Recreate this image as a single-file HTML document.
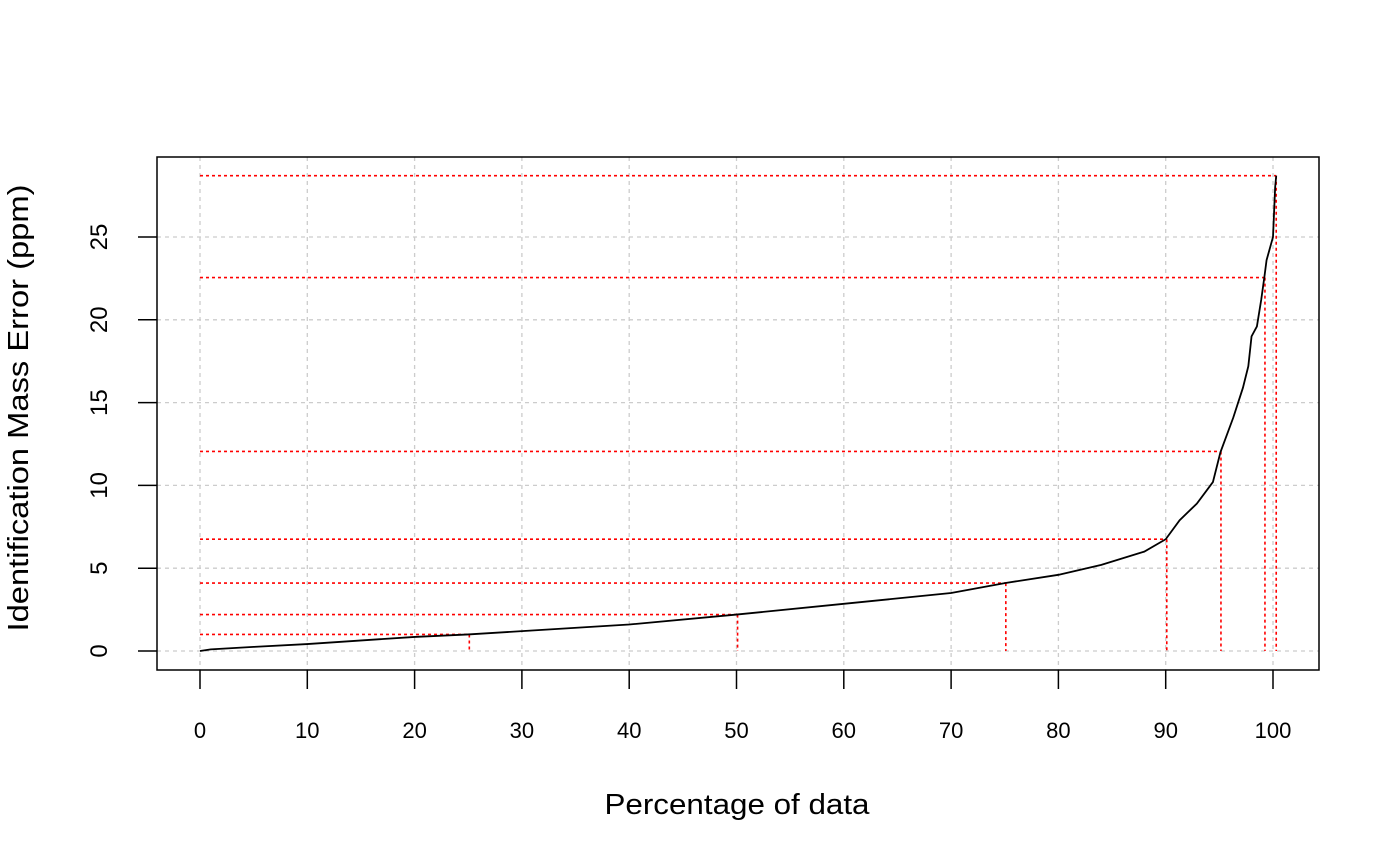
<!DOCTYPE html>
<html><head><meta charset="utf-8"><style>
body{margin:0;background:#fff}
svg{display:block;font-family:"Liberation Sans",Arial,sans-serif}
</style></head><body>
<svg id="chart" width="1400" height="866" viewBox="0 0 1400 866" xmlns="http://www.w3.org/2000/svg">
<rect width="1400" height="866" fill="#fff"/>
<g id="grid"></g>
<g id="quant"></g>
<g id="curve"></g>
<rect x="157" y="157" width="1162" height="513" fill="none" stroke="#000" stroke-width="1.5"/>
<g id="axes"></g>
<text x="737" y="814" font-size="29" text-anchor="middle" textLength="265" lengthAdjust="spacingAndGlyphs">Percentage of data</text>
<text transform="translate(28,408) rotate(-90)" font-size="29" text-anchor="middle" textLength="447" lengthAdjust="spacingAndGlyphs">Identification Mass Error (ppm)</text>
</svg>
<script>
const xTicks=[0,10,20,30,40,50,60,70,80,90,100];
const yTicks=[0,5,10,15,20,25];
const curveX=[0,1,5,10,20,25,30,40,50,60,70,75,80,84,88,90,91.3,92.9,94.4,95.1,96.3,97.2,97.7,98.0,98.5,98.9,99.2,99.4,100,100.2,100.3];
const curveY=[0,0.1,0.25,0.42,0.85,1.0,1.2,1.6,2.2,2.85,3.5,4.1,4.6,5.2,6.0,6.75,7.9,8.9,10.2,12.0,14.1,15.9,17.2,19.0,19.6,21.2,22.6,23.6,25.0,28.0,28.7];
const quantP=[25.1,50.1,75.1,90.1,95.15,99.25,100.3];
const quantV=[1.0,2.2,4.1,6.75,12.05,22.55,28.7];
const sx=v=>200+v*10.73;
const sy=v=>651-v*16.56;
const NS="http://www.w3.org/2000/svg";
function mk(parent,tag,attrs){const e=document.createElementNS(NS,tag);for(const k in attrs)e.setAttribute(k,attrs[k]);parent.appendChild(e);return e;}
const grid=document.getElementById('grid'),axes=document.getElementById('axes'),quant=document.getElementById('quant'),curve=document.getElementById('curve');
xTicks.forEach(t=>{
 const g=mk(grid,'line',{x1:sx(t),x2:sx(t),y1:157,y2:670,stroke:'#ccc','stroke-width':1.3,'stroke-dasharray':'4,4'});
 
 
 const tk=mk(axes,'line',{x1:sx(t),x2:sx(t),y1:670,y2:689,stroke:'#000','stroke-width':1.5});
 
 
 const lb=mk(axes,'text',{x:sx(t),y:738,'font-size':22,'text-anchor':'middle'});
 lb.textContent=t;
 
 
});
yTicks.forEach(t=>{
 const g=mk(grid,'line',{x1:157,x2:1319,y1:sy(t),y2:sy(t),stroke:'#ccc','stroke-width':1.3,'stroke-dasharray':'4,4'});
 
 
 const tk=mk(axes,'line',{x1:138,x2:157,y1:sy(t),y2:sy(t),stroke:'#000','stroke-width':1.5});
 
 
 const lb=mk(axes,'text',{transform:`translate(107,${sy(t)}) rotate(-90)`,'font-size':24,'text-anchor':'middle'});
 lb.textContent=t;
 
 
});
quantP.forEach((p,i)=>{
 const h=mk(quant,'line',{x1:sx(0),x2:sx(p),y1:sy(quantV[i]),y2:sy(quantV[i]),stroke:'#f00','stroke-width':1.6,'stroke-dasharray':'3,3'});
 
 
 const v=mk(quant,'line',{x1:sx(p),x2:sx(p),y1:sy(quantV[i]),y2:sy(0),stroke:'#f00','stroke-width':1.6,'stroke-dasharray':'3,3'});
 
 
});
const pl=mk(curve,'polyline',{points:curveX.map((x,i)=>sx(x)+','+sy(curveY[i])).join(' '),fill:'none',stroke:'#000','stroke-width':1.8});


</script>
</body></html>
